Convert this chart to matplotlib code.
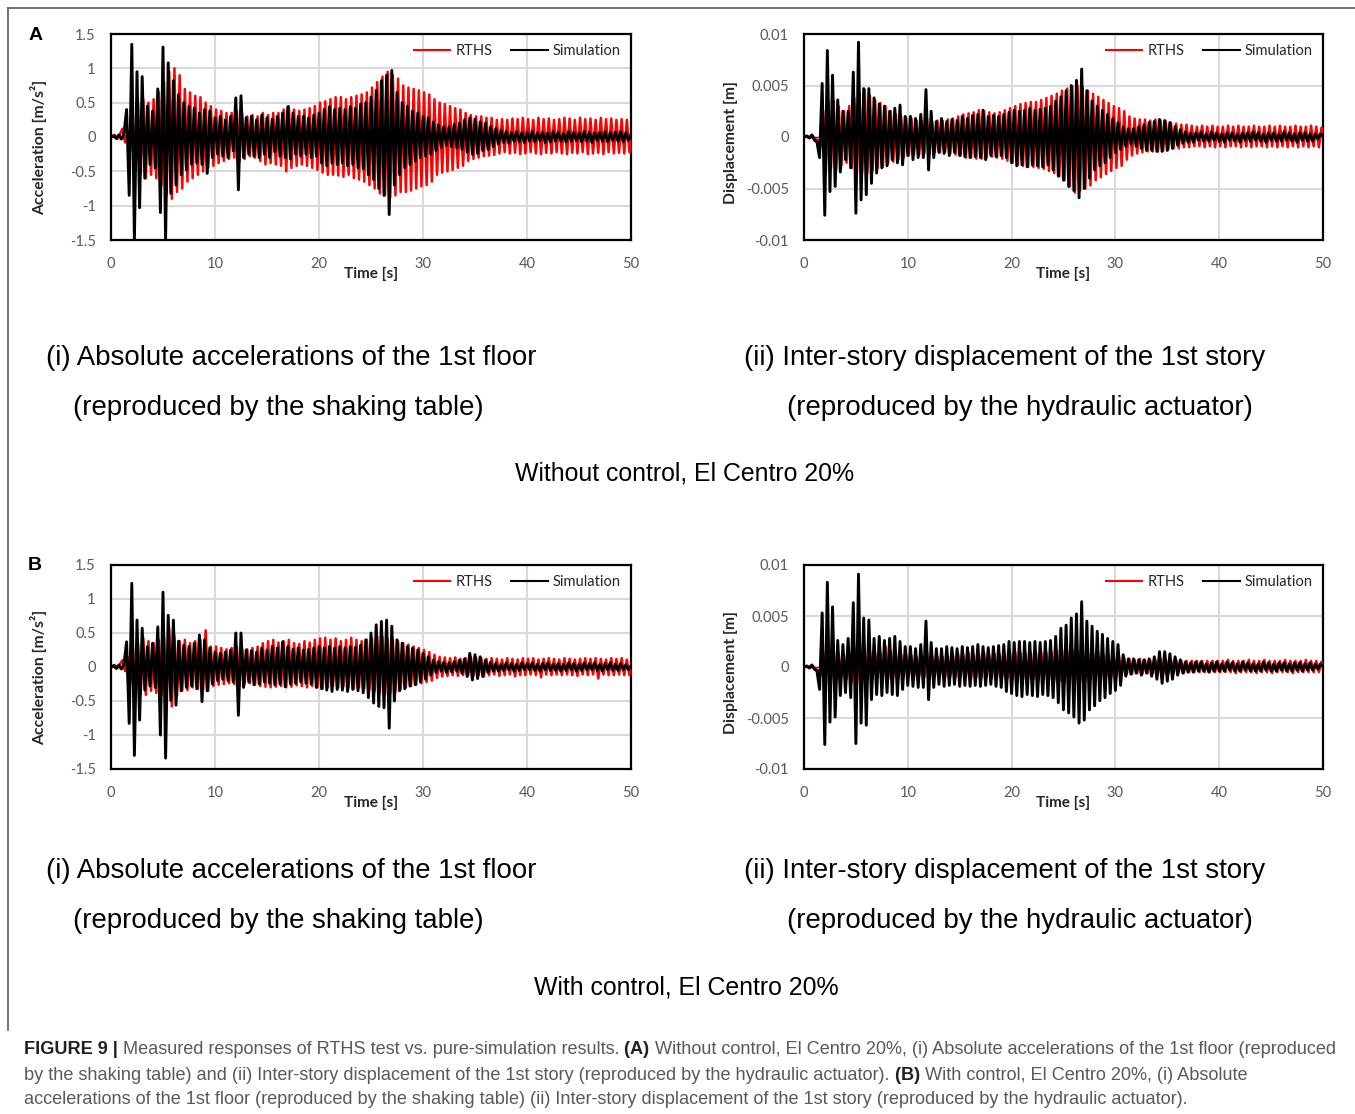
import matplotlib
matplotlib.use('Agg')
import matplotlib.pyplot as plt
import numpy as np
from matplotlib.lines import Line2D

# ---------------- data (peak values, one per 0.25 s) ----------------
time_step = 0.25   # s between successive read peaks
rths_delay = 0.1   # s, RTHS response lags the simulation slightly

# (A) without control - acceleration, units of 0.01 m/s^2
acc_sim_A = [0, 2, -2, 3, -3, 5,
             40, -85, 135, -150, 95, -103, 88, -60, 45, -40,
             38, -45, 70, -110, 131, -150, 108, -82, 82, -70, 62, -55,
             50, -48, 45, -40, 42, -38, 35, -40, 40, -53, 38, -30,
             28, -25, 30, -28, 25, -30, 30, -20, 57, -77, 60, -30,
             28, -25, 30, -28, 25, -30, 32, -25, 28, -30, 26, -22,
             30, -28, 35, -30, 44, -32, 35, -25, 30, -28, 30, -25,
             28, -30, 32, -28, 35, -38, 40, -42, 44, -38, 40, -40,
             42, -38, 40, -42, 44, -40, 42, -45, 48, -46, 50, -55,
             58, -62, 68, -75, 82, -85, 90, -113, 97, -70, 65, -55,
             50, -45, 45, -40, 38, -35, 35, -30, 30, -28, 28, -25,
             22, -20, 18, -15, 15, -12, 15, -14, 18, -16, 20, -18,
             25, -22, 28, -25, 26, -24, 22, -20, 20, -18, 15, -14,
             12, -10, 10, -8, 8, -9, 7, -6, 8, -7, 6, -8,
             7, -6, 8, -7, 6, -5, 7, -8, 6, -7, 8, -6,
             7, -6, 5, -7, 8, -6, 7, -5, 6, -7, 8, -6,
             7, -8, 6, -5, 7, -6, 8, -7, 6, -5, 7, -6,
             8, -7, 6, -5, 4]
acc_rths_A = [0, 3, -3, 4, 12, -8,
              10, -20, 30, -45, 50, -55, 55, -60, 50, -55,
              55, -60, 65, -70, 80, -85, 95, -90, 100, -80, 90, -75,
              70, -65, 65, -60, 60, -55, 58, -50, 50, -45, 45, -42,
              40, -38, 38, -35, 35, -32, 35, -30, 38, -35, 35, -32,
              30, -28, 32, -30, 30, -35, 35, -40, 32, -38, 35, -40,
              35, -42, 40, -50, 45, -45, 40, -42, 38, -40, 40, -42,
              42, -45, 45, -48, 50, -52, 52, -55, 55, -55, 58, -56,
              58, -58, 55, -55, 58, -60, 60, -62, 62, -65, 65, -70,
              72, -75, 80, -82, 88, -85, 95, -88, 90, -85, 85, -80,
              75, -80, 72, -78, 70, -75, 68, -72, 65, -70, 62, -65,
              55, -55, 50, -52, 48, -50, 45, -48, 42, -45, 40, -42,
              35, -35, 32, -32, 30, -30, 30, -28, 28, -27, 28, -26,
              25, -24, 26, -22, 25, -24, 27, -23, 26, -25, 28, -24,
              26, -22, 25, -24, 28, -25, 26, -23, 27, -24, 25, -22,
              26, -24, 28, -25, 27, -23, 25, -24, 28, -22, 26, -25,
              27, -24, 25, -23, 28, -25, 26, -22, 27, -24, 25, -23,
              26, -24, 25, -22, 5]

# (A) without control - inter-story displacement, units of 1e-4 m
disp_sim_A = [0, 1, -1, 2, -3, -5,
              -20, 52, -76, 84, -53, 60, -48, 36, -34, 25,
              -22, 25, -30, 63, -74, 92, -61, 47, -56, 47, -45, 38,
              -35, 32, -30, 30, -28, 25, -22, 28, -25, 31, -27, 20,
              -18, 20, -22, 18, -20, 22, -20, 46, -32, 25, -20, 15,
              -15, 18, -16, 15, -18, 17, -15, 16, -18, 20, -19, 18,
              -20, 21, -19, 22, -20, 26, -22, 20, -18, 21, -19, 20,
              -18, 22, -20, 24, -25, 26, -28, 25, -27, 26, -29, 28,
              -27, 26, -28, 27, -29, 28, -27, 30, -32, 35, -38, 39,
              -42, 45, -48, 50, -52, 55, -59, 66, -50, 45, -40, 35,
              -32, 30, -28, 26, -25, 22, -20, 18, -15, 14, -12, 10,
              -9, 8, -7, 8, -9, 10, -11, 12, -13, 14, -13, 15,
              -14, 17, -14, 16, -13, 14, -11, 10, -8, 7, -6, 5,
              -5, 4, -5, 4, -3, 5, -4, 3, -4, 5, -3, 4,
              -4, 3, -5, 4, -3, 4, -4, 3, -5, 4, -3, 4,
              -4, 5, -3, 4, -4, 3, -5, 4, -3, 4, -4, 3,
              -4, 5, -3, 4, -4, 3, -5, 4, -3, 4, -4, 3,
              -4, 3, -2, 3, 1]
disp_rths_A = [0, 1, -1, 1, -2, -3,
               -10, 25, -35, 35, -30, 35, -32, 30, -28, 25,
               -25, 30, -30, 38, -35, 42, -35, 46, -35, 40, -33, 36,
               -30, 33, -29, 30, -26, 25, -24, 22, -22, 20, -20, 18,
               -18, 18, -17, 16, -17, 15, -16, 17, -16, 15, -15, 16,
               -15, 16, -14, 17, -16, 18, -17, 20, -18, 22, -20, 23,
               -20, 24, -21, 26, -21, 25, -20, 24, -19, 23, -20, 24,
               -21, 26, -23, 28, -25, 30, -27, 32, -28, 33, -29, 34,
               -29, 34, -30, 36, -31, 38, -33, 40, -35, 42, -38, 45,
               -42, 47, -48, 49, -54, 50, -52, 48, -50, 45, -47, 42,
               -42, 39, -39, 36, -36, 33, -33, 30, -30, 28, -28, 25,
               -22, 20, -18, 18, -16, 17, -15, 17, -14, 16, -14, 17,
               -14, 16, -13, 15, -12, 14, -11, 13, -11, 12, -10, 12,
               -10, 11, -9, 10, -9, 11, -10, 10, -9, 11, -10, 10,
               -9, 10, -10, 11, -9, 10, -9, 11, -10, 10, -9, 10,
               -10, 11, -9, 10, -9, 10, -10, 11, -9, 10, -10, 11,
               -9, 10, -10, 10, -9, 11, -10, 10, -9, 10, -10, 11,
               -9, 10, -10, 9, 2]

# (B) with control - acceleration, units of 0.01 m/s^2
acc_sim_B = [0, 2, -2, 3, -3, 4,
             37, -83, 123, -130, 69, -78, 57, -34, 30, -28,
             35, -30, 59, -100, 110, -134, 76, -49, 69, -56, 38, -35,
             32, -30, 30, -28, 35, -32, 47, -51, 40, -35, 28, -25,
             22, -20, 20, -18, 22, -20, 25, -22, 50, -71, 50, -30,
             25, -22, 24, -26, 22, -25, 28, -22, 25, -24, 30, -26,
             28, -25, 37, -29, 30, -25, 26, -24, 28, -22, 25, -24,
             26, -25, 28, -30, 30, -32, 28, -34, 30, -36, 28, -33,
             30, -34, 28, -36, 30, -33, 29, -35, 32, -38, 40, -45,
             50, -53, 62, -58, 67, -60, 69, -90, 60, -50, 40, -35,
             35, -32, 30, -28, 28, -26, 25, -22, 20, -18, 15, -12,
             10, -8, 8, -6, 7, -8, 6, -7, 8, -6, 10, -9,
             12, -14, 20, -19, 18, -17, 15, -14, 10, -8, 7, -6,
             5, -6, 4, -5, 6, -4, 5, -6, 4, -5, 6, -4,
             5, -4, 6, -5, 4, -6, 5, -4, 6, -5, 4, -5,
             5, -6, 4, -5, 6, -4, 5, -6, 4, -5, 6, -4,
             5, -4, 6, -5, 4, -6, 5, -4, 6, -5, 4, -5,
             5, -4, 3, -4, 2]
acc_rths_B = [0, 3, -2, 4, 10, -6,
              15, -25, 30, -38, 35, -40, 43, -41, 38, -35,
              35, -38, 40, -42, 45, -40, 57, -58, 45, -42, 38, -35,
              40, -34, 35, -30, 38, -32, 40, -34, 54, -35, 30, -28,
              30, -26, 28, -25, 26, -24, 28, -25, 30, -28, 28, -25,
              26, -24, 28, -26, 30, -28, 35, -29, 38, -30, 40, -29,
              36, -28, 38, -30, 40, -29, 35, -27, 34, -28, 38, -30,
              36, -28, 40, -30, 42, -32, 43, -30, 40, -28, 42, -30,
              38, -29, 40, -30, 43, -32, 40, -30, 38, -32, 40, -34,
              42, -36, 45, -38, 45, -40, 42, -38, 40, -36, 38, -33,
              35, -30, 33, -28, 30, -26, 28, -24, 25, -22, 22, -20,
              18, -16, 15, -14, 14, -13, 13, -12, 14, -13, 12, -12,
              13, -12, 15, -13, 14, -12, 13, -14, 12, -12, 13, -11,
              12, -13, 11, -12, 13, -11, 12, -14, 11, -12, 13, -12,
              12, -11, 13, -12, 11, -15, 12, -11, 13, -12, 12, -11,
              11, -12, 13, -11, 12, -12, 11, -13, 12, -11, 13, -12,
              12, -11, 13, -17, 12, -11, 11, -12, 13, -12, 12, -11,
              13, -12, 11, -12, 8]

# (B) with control - inter-story displacement, units of 1e-4 m
disp_sim_B = [0, 1, -1, 2, -2, -4,
              -22, 53, -76, 83, -54, 59, -49, 26, -28, 22,
              -25, 28, -30, 63, -75, 91, -55, 48, -57, 46, -32, 28,
              -27, 30, -28, 26, -25, 28, -27, 30, -28, 25, -22, 20,
              -18, 20, -19, 18, -20, 22, -20, 45, -32, 24, -20, 18,
              -17, 18, -19, 20, -18, 19, -17, 18, -19, 20, -18, 19,
              -19, 20, -18, 22, -19, 20, -18, 19, -17, 20, -19, 21,
              -20, 22, -24, 25, -26, 24, -28, 25, -29, 25, -27, 24,
              -28, 25, -29, 24, -27, 25, -28, 26, -30, 30, -35, 38,
              -42, 41, -45, 48, -49, 52, -55, 64, -52, 45, -42, 40,
              -38, 35, -33, 32, -30, 28, -26, 25, -23, 22, -18, 12,
              -9, 8, -7, 8, -6, 7, -8, 7, -6, 8, -9, 10,
              -12, 15, -16, 15, -14, 13, -12, 10, -8, 7, -6, 5,
              -5, 4, -5, 5, -4, 5, -4, 3, -5, 4, -4, 5,
              -4, 3, -4, 5, -3, 4, -4, 3, -4, 5, -3, 4,
              -4, 3, -4, 3, -4, 5, -3, 4, -4, 3, -4, 4,
              -3, 4, -4, 3, -4, 4, -3, 4, -4, 3, -3, 4,
              -3, 3, -2, 3, 1]
disp_rths_B = [0, 1, -1, 1, -2, -3,
               -8, 15, -18, 20, -15, 18, -14, 12, -10, 12,
               -12, 14, -15, 20, -18, 22, -15, 18, -14, 15, -12, 14,
               -10, 15, -9, 20, -12, 16, -10, 14, -11, 13, -10, 12,
               -9, 11, -10, 10, -9, 11, -10, 15, -12, 11, -9, 10,
               -9, 10, -10, 11, -9, 12, -10, 13, -9, 12, -10, 14,
               -11, 12, -10, 13, -11, 14, -10, 12, -11, 13, -10, 12,
               -10, 13, -11, 14, -12, 15, -11, 14, -12, 13, -11, 14,
               -12, 14, -13, 15, -12, 14, -13, 15, -14, 16, -14, 17,
               -15, 16, -16, 17, -15, 16, -14, 15, -13, 14, -12, 13,
               -12, 13, -11, 12, -10, 11, -10, 10, -9, 10, -8, 9,
               -7, 8, -7, 7, -6, 8, -7, 7, -6, 7, -6, 7,
               -7, 8, -7, 8, -6, 7, -6, 7, -5, 6, -6, 6,
               -5, 6, -5, 6, -5, 6, -5, 6, -5, 6, -5, 6,
               -5, 6, -5, 7, -5, 6, -6, 6, -5, 6, -5, 7,
               -5, 6, -6, 6, -5, 7, -5, 6, -6, 6, -5, 6,
               -5, 7, -5, 6, -6, 6, -5, 6, -5, 7, -5, 6,
               -5, 6, -5, 5, 1]

acc_unit = 0.01
disp_unit = 1e-4

x_ticks = [0, 10, 20, 30, 40, 50]
acc_ticks = [-1.5, -1, -0.5, 0, 0.5, 1, 1.5]
acc_tick_labels = ['-1.5', '-1', '-0.5', '0', '0.5', '1', '1.5']
disp_ticks = [-0.01, -0.005, 0, 0.005, 0.01]
disp_tick_labels = ['-0.01', '-0.005', '0', '0.005', '0.01']

series_labels = ['RTHS', 'Simulation']
acc_ylabel = 'Acceleration [m/s²]'
disp_ylabel = 'Displacement [m]'
xlabel = 'Time [s]'

sub_acc = ['(i) Absolute accelerations of the 1st floor', '(reproduced by the shaking table)']
sub_disp = ['(ii) Inter-story displacement of the 1st story', '(reproduced by the hydraulic actuator)']
group_titles = ['Without control, El Centro 20%', 'With control, El Centro 20%']

caption_lines = [
    [('FIGURE 9 | ', True), ('Measured responses of RTHS test vs. pure-simulation results. ', False),
     ('(A) ', True), ('Without control, El Centro 20%, (i) Absolute accelerations of the 1st floor (reproduced', False)],
    [('by the shaking table) and (ii) Inter-story displacement of the 1st story (reproduced by the hydraulic actuator). ', False),
     ('(B) ', True), ('With control, El Centro 20%, (i) Absolute', False)],
    [('accelerations of the 1st floor (reproduced by the shaking table) (ii) Inter-story displacement of the 1st story (reproduced by the hydraulic actuator).', False)],
]

# ---------------- figure ----------------
W, H = 1355, 1114
fig = plt.figure(figsize=(W / 100, H / 100), dpi=100)
fig.patch.set_facecolor('white')

RED = '#ff0000'
BLACK = '#000000'
GRID = '#d9d9d9'
TICKC = '#595959'
TICKFONT = ['Lato', 'DejaVu Sans']


def px_rect(l, t, r, b):
    return [l / W, 1 - b / H, (r - l) / W, (b - t) / H]


def make_panel(rect, rths, sim, unit, ylim, yticks, yticklabels, ylabel, ylabel_y):
    ax = fig.add_axes(rect)
    t_r = np.arange(len(rths)) * time_step + rths_delay
    t_s = np.arange(len(sim)) * time_step
    ax.plot(t_r, np.array(rths) * unit, color=RED, lw=1.8, zorder=3)
    ax.axhline(0, color='#404040', lw=0.8, zorder=3.5)
    ax.plot(t_s, np.array(sim) * unit, color=BLACK, lw=2.1, zorder=4)
    ax.set_xlim(0, 50)
    ax.set_ylim(*ylim)
    ax.set_xticks(x_ticks)
    ax.set_xticklabels([str(v) for v in x_ticks])
    ax.set_yticks(yticks)
    ax.set_yticklabels(yticklabels)
    ax.grid(True, color=GRID, lw=1.5, zorder=0)
    ax.set_axisbelow(True)
    ax.tick_params(length=0, labelsize=10.5, labelcolor=TICKC)
    ax.tick_params(axis='x', pad=12)
    ax.tick_params(axis='y', pad=11)
    for lab in ax.get_xticklabels() + ax.get_yticklabels():
        lab.set_family(TICKFONT)
    for sp in ax.spines.values():
        sp.set_linewidth(1.6)
        sp.set_color('#000000')
    ax.text(0.5, -0.165, xlabel, transform=ax.transAxes, ha='center', va='center',
            fontsize=11, fontweight='bold', family=TICKFONT, color='#262626')
    ax.text(-0.140, ylabel_y, ylabel, transform=ax.transAxes, ha='center', va='center', rotation=90,
            fontsize=11.3, fontweight='bold', family=TICKFONT, color='#262626')
    handles = [Line2D([], [], color=RED, lw=1.5), Line2D([], [], color=BLACK, lw=1.5)]
    leg = ax.legend(handles, series_labels, loc='upper right', ncol=2, frameon=False,
                    prop={'family': TICKFONT, 'size': 10.5}, handlelength=2.5,
                    handletextpad=0.35, columnspacing=1.3, borderaxespad=0.3)
    for txt in leg.get_texts():
        txt.set_color('#262626')
    return ax


make_panel(px_rect(111, 34, 631, 240), acc_rths_A, acc_sim_A, acc_unit, (-1.5, 1.5),
           acc_ticks, acc_tick_labels, acc_ylabel, 0.447)
make_panel(px_rect(804, 34, 1323, 240), disp_rths_A, disp_sim_A, disp_unit, (-0.01, 0.01),
           disp_ticks, disp_tick_labels, disp_ylabel, 0.472)
make_panel(px_rect(111, 565, 631, 769), acc_rths_B, acc_sim_B, acc_unit, (-1.5, 1.5),
           acc_ticks, acc_tick_labels, acc_ylabel, 0.447)
make_panel(px_rect(804, 565, 1323, 769), disp_rths_B, disp_sim_B, disp_unit, (-0.01, 0.01),
           disp_ticks, disp_tick_labels, disp_ylabel, 0.472)


def ftext(x, y, s, **kw):
    return fig.text(x / W, 1 - y / H, s, **kw)


SUBFONT = ['Liberation Sans', 'DejaVu Sans']
SUBSIZE = 19.9
GROUPSIZE = 17.9
# panel letters
ftext(36, 35, 'A', fontsize=14, fontweight='bold', family=SUBFONT, ha='center', va='center')
ftext(35, 566, 'B', fontsize=14, fontweight='bold', family=SUBFONT, ha='center', va='center')

for y0 in (0, 513):
    ftext(291, 358 + y0, sub_acc[0], fontsize=SUBSIZE, family=SUBFONT, ha='center', va='center')
    ftext(278, 408 + y0, sub_acc[1], fontsize=SUBSIZE, family=SUBFONT, ha='center', va='center')
    ftext(1005, 358 + y0, sub_disp[0], fontsize=SUBSIZE, family=SUBFONT, ha='center', va='center')
    ftext(1020, 408 + y0, sub_disp[1], fontsize=SUBSIZE, family=SUBFONT, ha='center', va='center')
ftext(685, 474, group_titles[0], fontsize=GROUPSIZE, family=SUBFONT, ha='center', va='center')
ftext(686, 987, group_titles[1], fontsize=GROUPSIZE, family=SUBFONT, ha='center', va='center')

# frame lines
fig.add_artist(Line2D([8 / W, 8 / W], [1 - 1030 / H, 1 - 8 / H], transform=fig.transFigure,
                      color='#5a5a5a', lw=1.2))
fig.add_artist(Line2D([8 / W, 1.0], [1 - 8 / H, 1 - 8 / H], transform=fig.transFigure,
                      color='#5a5a5a', lw=1.2))

# caption with mixed bold segments
renderer = fig.canvas.get_renderer()
CAPFONT = ['Liberation Sans Narrow', 'Liberation Sans']
CAPCOLOR = '#58595b'


def seg_width(s, bold, size):
    a = fig.text(0, 0, s + '|', fontsize=size, family=CAPFONT,
                 fontweight='bold' if bold else 'normal')
    b = fig.text(0, 0, '|', fontsize=size, family=CAPFONT,
                 fontweight='bold' if bold else 'normal')
    w = a.get_window_extent(renderer).width - b.get_window_extent(renderer).width
    a.remove()
    b.remove()
    return w


base = 13.0
line1_w = sum(seg_width(s, b, base) for s, b in caption_lines[0])
CAPSIZE = base * 1313.0 / line1_w

for line, yc in zip(caption_lines, (1050, 1075, 1100)):
    x = 24
    for s, bold in line:
        ftext(x, yc, s, fontsize=CAPSIZE, family=CAPFONT, fontweight='bold' if bold else 'normal',
              color=CAPCOLOR if not bold else '#231f20', ha='left', va='center')
        x += seg_width(s, bold, CAPSIZE)

fig.savefig('out.png', dpi=100, facecolor='white')
